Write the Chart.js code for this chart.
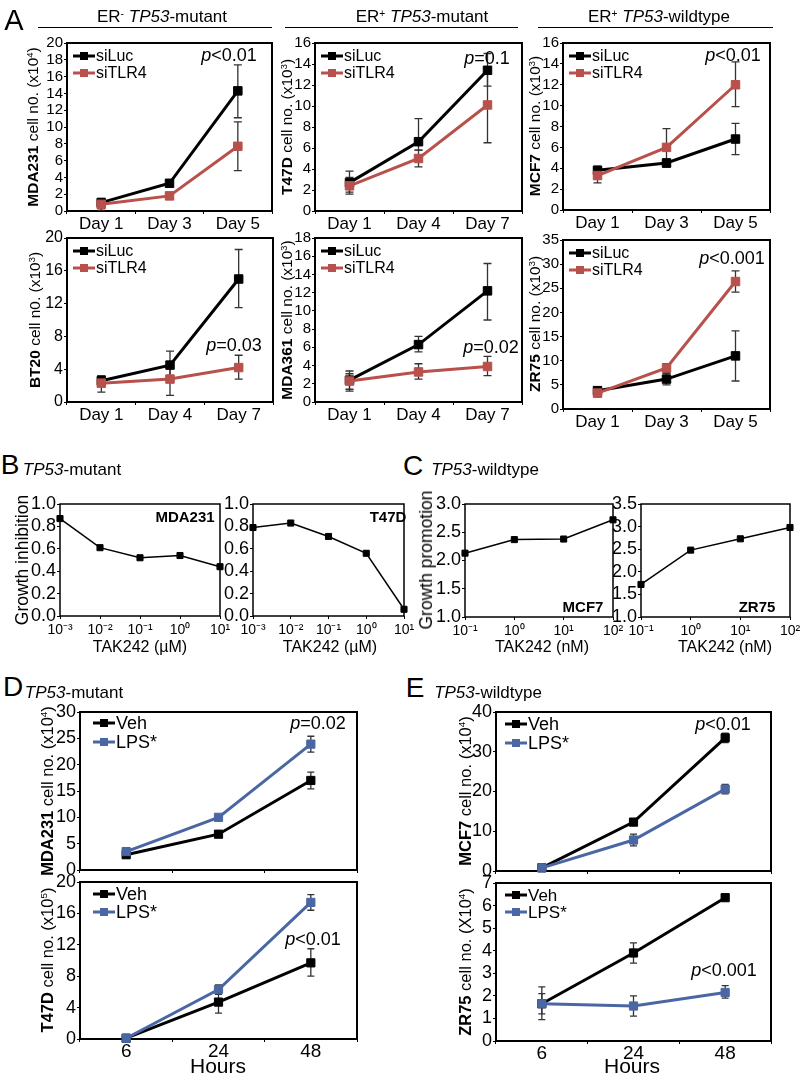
<!DOCTYPE html>
<html><head><meta charset="utf-8">
<script src="https://cdn.jsdelivr.net/npm/chart.js@4.4.1/dist/chart.umd.min.js"></script>
<style>
html,body{margin:0;padding:0;background:#fff;}
#page{position:relative;width:805px;height:1078px;overflow:hidden;font-family:'Liberation Sans',Arial,Helvetica,sans-serif;color:#000;}
canvas{position:absolute;}
.t{position:absolute;white-space:nowrap;transform:translate(-50%,-50%);line-height:1.15;}
.r{transform:translate(-50%,-50%) rotate(-90deg);}
sup{font-size:0.6em;vertical-align:0.55em;line-height:0;}
.hl{position:absolute;height:0;border-top:1.5px solid #000;}
</style></head><body><div id="page"></div>
<script>
// ---------------- DATA ----------------
const daysA135 = ['Day 1','Day 3','Day 5'];
const daysA147 = ['Day 1','Day 4','Day 7'];
const hours = ['6','24','48'];
const namesA = ['siLuc','siTLR4'];
const namesDE = ['Veh','LPS*'];

// A top: MDA231 (x10^4)
const mda231_siLuc = [1.0, 3.3, 14.3];
const mda231_siLuc_lo = [0.6, 2.9, 11.1];
const mda231_siLuc_hi = [1.4, 3.7, 17.4];
const mda231_siTLR4 = [0.8, 1.8, 7.7];
const mda231_siTLR4_lo = [0.1, 1.5, 4.8];
const mda231_siTLR4_hi = [1.5, 2.1, 10.6];
// A top: T47D (x10^3)
const t47d_siLuc = [2.7, 6.6, 13.4];
const t47d_siLuc_lo = [1.8, 5.8, 11.9];
const t47d_siLuc_hi = [3.8, 8.8, 15.0];
const t47d_siTLR4 = [2.4, 5.0, 10.1];
const t47d_siTLR4_lo = [1.6, 4.2, 6.5];
const t47d_siTLR4_hi = [3.2, 5.8, 13.7];
// A top: MCF7 (x10^3)
const mcf7_siLuc = [3.8, 4.5, 6.8];
const mcf7_siLuc_lo = [3.4, 4.1, 5.3];
const mcf7_siLuc_hi = [4.2, 4.9, 8.3];
const mcf7_siTLR4 = [3.3, 6.0, 12.0];
const mcf7_siTLR4_lo = [2.6, 4.3, 9.9];
const mcf7_siTLR4_hi = [4.0, 7.8, 14.2];
// A bottom: BT20 (x10^3)
const bt20_siLuc = [2.6, 4.5, 15.0];
const bt20_siLuc_lo = [2.0, 2.8, 11.5];
const bt20_siLuc_hi = [3.2, 6.2, 18.6];
const bt20_siTLR4 = [2.3, 2.8, 4.2];
const bt20_siTLR4_lo = [1.2, 0.8, 2.8];
const bt20_siTLR4_hi = [3.2, 4.5, 5.7];
// A bottom: MDA361 (x10^3)
const mda361_siLuc = [2.4, 6.3, 12.2];
const mda361_siLuc_lo = [1.4, 5.5, 9.0];
const mda361_siLuc_hi = [3.4, 7.2, 15.2];
const mda361_siTLR4 = [2.3, 3.3, 3.9];
const mda361_siTLR4_lo = [1.2, 2.5, 2.9];
const mda361_siTLR4_hi = [3.1, 4.2, 5.0];
// A bottom: ZR75 (x10^3)
const zr75_siLuc = [3.8, 6.2, 11.0];
const zr75_siLuc_lo = [3.0, 5.0, 5.8];
const zr75_siLuc_hi = [4.6, 7.4, 16.2];
const zr75_siTLR4 = [3.3, 8.5, 26.4];
const zr75_siTLR4_lo = [2.5, 7.6, 24.2];
const zr75_siTLR4_hi = [4.1, 9.4, 28.6];

// B: growth inhibition vs TAK242 (uM), log10 dose
const bDoseLog = [-3, -2, -1, 0, 1];
const bTickLabels = ['10\u207B\u00B3','10\u207B\u00B2','10\u207B\u00B9','10\u2070','10\u00B9'];
const bMDA231 = [0.87, 0.61, 0.52, 0.54, 0.44];
const bT47D = [0.79, 0.83, 0.71, 0.56, 0.06];
// C: growth promotion vs TAK242 (nM), log10 dose
const cDoseLog = [-1, 0, 1, 2];
const cTickLabels = ['10\u207B\u00B9','10\u2070','10\u00B9','10\u00B2'];
const cMCF7 = [2.13, 2.37, 2.38, 2.72];
const cZR75 = [1.72, 2.48, 2.73, 2.98];

// D: MDA231 (x10^4)
const dMDA_veh = [2.9, 6.8, 17.0];
const dMDA_veh_lo = [2.5, 6.3, 15.4];
const dMDA_veh_hi = [3.3, 7.3, 18.6];
const dMDA_lps = [3.5, 10.0, 23.9];
const dMDA_lps_lo = [3.1, 9.5, 22.4];
const dMDA_lps_hi = [3.9, 10.5, 25.4];
// D: T47D (x10^5)
const dT47_veh = [0.1, 4.7, 9.7];
const dT47_veh_lo = [0.0, 3.3, 8.0];
const dT47_veh_hi = [0.2, 6.2, 11.5];
const dT47_lps = [0.1, 6.3, 17.4];
const dT47_lps_lo = [0.0, 5.7, 16.4];
const dT47_lps_hi = [0.2, 6.9, 18.4];
// E: MCF7 (x10^4)
const eMCF_veh = [0.8, 12.3, 33.5];
const eMCF_veh_lo = [0.5, 11.6, 32.3];
const eMCF_veh_hi = [1.1, 13.0, 34.7];
const eMCF_lps = [0.8, 7.8, 20.6];
const eMCF_lps_lo = [0.5, 6.3, 19.4];
const eMCF_lps_hi = [1.1, 9.3, 21.8];
// E: ZR75 (x10^4)
const eZR_veh = [1.65, 3.9, 6.35];
const eZR_veh_lo = [1.2, 3.45, 6.25];
const eZR_veh_hi = [2.1, 4.35, 6.45];
const eZR_lps = [1.65, 1.55, 2.15];
const eZR_lps_lo = [0.95, 1.1, 1.9];
const eZR_lps_hi = [2.4, 2.0, 2.45];

// ---------------- STYLE ----------------
const FAM = "'Liberation Sans', Arial, Helvetica, sans-serif";
const BLACK = '#000000', RED = '#b8504b', BLUE = '#4a66a3';
const page = document.getElementById('page');

const framePlugin = {
  id: 'frame',
  beforeDatasetsDraw(chart, args, opts) {
    const ctx = chart.ctx, a = chart.chartArea, ys = chart.scales.y;
    ctx.save();
    ctx.strokeStyle = '#000'; ctx.lineWidth = opts.lw;
    ctx.strokeRect(a.left, a.top, a.right - a.left, a.bottom - a.top);
    chart.data.datasets.forEach((ds, i) => {
      if (!ds.errLo) return;
      const meta = chart.getDatasetMeta(i);
      ctx.strokeStyle = opts.errColor; ctx.lineWidth = opts.errLw;
      const c = opts.cap;
      meta.data.forEach((p, j) => {
        const y1 = ys.getPixelForValue(ds.errLo[j]), y2 = ys.getPixelForValue(ds.errHi[j]);
        ctx.beginPath();
        ctx.moveTo(p.x, y1); ctx.lineTo(p.x, y2);
        ctx.moveTo(p.x - c, y1); ctx.lineTo(p.x + c, y1);
        ctx.moveTo(p.x - c, y2); ctx.lineTo(p.x + c, y2);
        ctx.stroke();
      });
    });
    ctx.restore();
  },
  afterDatasetsDraw(chart, args, opts) {
    const L = opts.legend; if (!L) return;
    const ctx = chart.ctx, a = chart.chartArea;
    ctx.save();
    L.items.forEach((it, k) => {
      const y = a.top + L.y + k * L.dy, x0 = a.left + L.x;
      ctx.strokeStyle = it.color; ctx.lineWidth = L.lw;
      ctx.beginPath(); ctx.moveTo(x0, y); ctx.lineTo(x0 + L.len, y); ctx.stroke();
      ctx.fillStyle = it.color;
      ctx.fillRect(x0 + L.len / 2 - L.m / 2, y - L.m / 2, L.m, L.m);
      ctx.fillStyle = '#000'; ctx.font = L.size + 'px ' + FAM;
      ctx.textAlign = 'left'; ctx.textBaseline = 'middle';
      ctx.fillText(it.label, x0 + L.len + 1, y + 1);
    });
    ctx.restore();
  }
};

function ds(label, data, lo, hi, color, lw, r, order) {
  const o = { label, data, borderColor: color, backgroundColor: color, borderWidth: lw,
    pointStyle: 'rect', pointRadius: r, pointBackgroundColor: color, pointBorderColor: color,
    pointBorderWidth: 1, tension: 0, clip: false, order };
  if (lo) { o.errLo = lo; o.errHi = hi; }
  return o;
}

function makeChart(o) {
  const YW = 44, PT = 12, PR = 16, XH = (o.xh !== undefined ? o.xh : 36);
  const W = o.box.r - o.box.l, H = o.box.b - o.box.t;
  const cw = W + YW + PR, ch = H + PT + XH;
  const cv = document.createElement('canvas');
  cv.width = cw; cv.height = ch;
  cv.style.left = (o.box.l - YW) + 'px'; cv.style.top = (o.box.t - PT) + 'px';
  cv.style.width = cw + 'px'; cv.style.height = ch + 'px';
  page.appendChild(cv);
  const x = Object.assign({ afterFit: s => { s.height = XH; } }, o.x);
  const y = Object.assign({ afterFit: s => { s.width = YW; } }, o.y);
  new Chart(cv, {
    type: 'line',
    data: { labels: o.labels, datasets: o.datasets },
    plugins: [framePlugin],
    options: {
      responsive: false, animation: false, devicePixelRatio: 1,
      layout: { padding: { top: PT, right: PR, left: 0, bottom: 0 } },
      plugins: { legend: { display: false }, tooltip: { enabled: false },
        frame: { lw: o.frame, errColor: '#333', errLw: 1.3, cap: o.cap || 3.5, legend: o.legend } },
      scales: { x, y }
    }
  });
}

function catX(fontSize, show, pad) {
  return { type: 'category', offset: true,
    grid: { offset: true, drawOnChartArea: false, drawTicks: true, tickLength: 3, color: '#000', lineWidth: 1 },
    border: { display: false },
    ticks: { display: show !== false, color: '#000', font: { family: FAM, size: fontSize, lineHeight: 1 },
      padding: pad !== undefined ? pad : 2, maxRotation: 0, autoSkip: false } };
}
function linY(min, max, step, fontSize, dec) {
  return { type: 'linear', min, max,
    grid: { drawOnChartArea: false, drawTicks: true, tickLength: 3, color: '#000', lineWidth: 1 },
    border: { display: false },
    ticks: { stepSize: step, autoSkip: false, color: '#000', padding: 1, font: { family: FAM, size: fontSize },
      callback: v => dec ? Number(v).toFixed(dec) : String(Math.round(v)) } };
}
function logX(min, max, labels) {
  return { type: 'linear', min, max,
    grid: { drawOnChartArea: false, drawTicks: true, tickLength: 3, color: '#000', lineWidth: 1 },
    border: { display: false },
    ticks: { stepSize: 1, autoSkip: false, color: '#000', padding: 3, maxRotation: 0, font: { family: FAM, size: 14 },
      callback: v => labels[Math.round(v - min)] } };
}
const legA = { x: 6, y: 13, dy: 17, len: 22, m: 8, lw: 3, size: 16,
  items: [{ label: namesA[0], color: BLACK }, { label: namesA[1], color: RED }] };
function legDE(x, y, dy, size) {
  return { x, y, dy, len: 22, m: 8, lw: 3, size,
    items: [{ label: namesDE[0], color: BLACK }, { label: namesDE[1], color: BLUE }] };
}
function pairA(a, alo, ahi, b, blo, bhi) {
  return [ds(namesA[0], a, alo, ahi, BLACK, 3, 6, 1), ds(namesA[1], b, blo, bhi, RED, 3, 6, 0)];
}
function pairDE(a, alo, ahi, b, blo, bhi) {
  return [ds(namesDE[0], a, alo, ahi, BLACK, 3, 5.8, 1), ds(namesDE[1], b, blo, bhi, BLUE, 3, 5.8, 0)];
}
const xy = (xs, ys) => xs.map((v, i) => ({ x: v, y: ys[i] }));

// ---------------- PANEL A ----------------
makeChart({ box: { l: 67, t: 42.5, r: 272, b: 211 }, labels: daysA135, frame: 2, cap: 4, legend: legA,
  x: catX(17), y: linY(0, 20, 2, 15),
  datasets: pairA(mda231_siLuc, mda231_siLuc_lo, mda231_siLuc_hi, mda231_siTLR4, mda231_siTLR4_lo, mda231_siTLR4_hi) });
makeChart({ box: { l: 315, t: 42.5, r: 522, b: 211 }, labels: daysA147, frame: 2, cap: 4, legend: legA,
  x: catX(17), y: linY(0, 16, 2, 15),
  datasets: pairA(t47d_siLuc, t47d_siLuc_lo, t47d_siLuc_hi, t47d_siTLR4, t47d_siTLR4_lo, t47d_siTLR4_hi) });
makeChart({ box: { l: 563, t: 42.5, r: 770, b: 210 }, labels: daysA135, frame: 2, cap: 4, legend: legA,
  x: catX(17), y: linY(0, 16, 2, 15),
  datasets: pairA(mcf7_siLuc, mcf7_siLuc_lo, mcf7_siLuc_hi, mcf7_siTLR4, mcf7_siTLR4_lo, mcf7_siTLR4_hi) });
makeChart({ box: { l: 67, t: 238, r: 273, b: 402 }, labels: daysA147, frame: 2, cap: 4, legend: legA,
  x: catX(17), y: linY(0, 20, 4, 16),
  datasets: pairA(bt20_siLuc, bt20_siLuc_lo, bt20_siLuc_hi, bt20_siTLR4, bt20_siTLR4_lo, bt20_siTLR4_hi) });
makeChart({ box: { l: 315, t: 238, r: 522, b: 402 }, labels: daysA147, frame: 2, cap: 4, legend: legA,
  x: catX(17), y: linY(0, 18, 2, 15),
  datasets: pairA(mda361_siLuc, mda361_siLuc_lo, mda361_siLuc_hi, mda361_siTLR4, mda361_siTLR4_lo, mda361_siTLR4_hi) });
makeChart({ box: { l: 563, t: 240, r: 770, b: 409 }, labels: daysA135, frame: 2, cap: 4, legend: legA,
  x: catX(17), y: linY(0, 35, 5, 15),
  datasets: pairA(zr75_siLuc, zr75_siLuc_lo, zr75_siLuc_hi, zr75_siTLR4, zr75_siTLR4_lo, zr75_siTLR4_hi) });

// ---------------- PANEL B / C ----------------
makeChart({ box: { l: 60, t: 504, r: 220, b: 616 }, frame: 1.5,
  x: logX(-3, 1, bTickLabels), y: linY(0, 1, 0.2, 18, 1),
  datasets: [ds('MDA231', xy(bDoseLog, bMDA231), null, null, BLACK, 1.5, 4.3, 0)] });
makeChart({ box: { l: 253, t: 504, r: 404, b: 616 }, frame: 1.5,
  x: logX(-3, 1, bTickLabels), y: linY(0, 1, 0.2, 18, 1),
  datasets: [ds('T47D', xy(bDoseLog, bT47D), null, null, BLACK, 1.5, 4.3, 0)] });
makeChart({ box: { l: 465, t: 504, r: 613, b: 617 }, frame: 1.5,
  x: logX(-1, 2, cTickLabels), y: linY(1, 3, 0.5, 18, 1),
  datasets: [ds('MCF7', xy(cDoseLog, cMCF7), null, null, BLACK, 1.5, 4.3, 0)] });
makeChart({ box: { l: 641, t: 504, r: 790, b: 617 }, frame: 1.5,
  x: logX(-1, 2, cTickLabels), y: linY(1, 3.5, 0.5, 18, 1),
  datasets: [ds('ZR75', xy(cDoseLog, cZR75), null, null, BLACK, 1.5, 4.3, 0)] });

// ---------------- PANEL D / E ----------------
makeChart({ box: { l: 80, t: 712, r: 357, b: 870 }, labels: hours, frame: 2, xh: 14, legend: legDE(13, 11, 19, 18),
  x: catX(19, false), y: linY(0, 30, 5, 18),
  datasets: pairDE(dMDA_veh, dMDA_veh_lo, dMDA_veh_hi, dMDA_lps, dMDA_lps_lo, dMDA_lps_hi) });
makeChart({ box: { l: 80, t: 882, r: 357, b: 1039 }, labels: hours, frame: 2, legend: legDE(13, 12, 18, 18),
  x: catX(19, true, 0), y: linY(0, 20, 4, 18),
  datasets: pairDE(dT47_veh, dT47_veh_lo, dT47_veh_hi, dT47_lps, dT47_lps_lo, dT47_lps_hi) });
makeChart({ box: { l: 496, t: 712, r: 771, b: 871 }, labels: hours, frame: 2, xh: 14, legend: legDE(9, 12, 19, 18),
  x: catX(19, false), y: linY(0, 40, 10, 18),
  datasets: pairDE(eMCF_veh, eMCF_veh_lo, eMCF_veh_hi, eMCF_lps, eMCF_lps_lo, eMCF_lps_hi) });
makeChart({ box: { l: 496, t: 883, r: 771, b: 1041 }, labels: hours, frame: 2, legend: legDE(9, 12, 17, 17),
  x: catX(19, true, 0), y: linY(0, 7, 1, 18),
  datasets: pairDE(eZR_veh, eZR_veh_lo, eZR_veh_hi, eZR_lps, eZR_lps_lo, eZR_lps_hi) });

// ---------------- TEXT ----------------
function T(html, cx, cy, size, style, rot) {
  const d = document.createElement('div');
  d.className = 't' + (rot ? ' r' : '');
  d.style.left = cx + 'px'; d.style.top = cy + 'px'; d.style.fontSize = size + 'px';
  if (style) d.style.cssText += style;
  d.innerHTML = html; page.appendChild(d);
}
function HL(x1, x2, y) {
  const d = document.createElement('div'); d.className = 'hl';
  d.style.left = x1 + 'px'; d.style.width = (x2 - x1) + 'px'; d.style.top = y + 'px'; page.appendChild(d);
}
// panel letters
T('A', 14, 21, 29); T('B', 10, 465, 28); T('C', 413, 466, 28); T('D', 13, 687, 28); T('E', 415, 688, 28);
// headers
T('ER<sup>-</sup> <i>TP53</i>-mutant', 162, 17, 17); HL(38, 272, 27);
T('ER<sup>+</sup> <i>TP53</i>-mutant', 422, 17, 17); HL(285, 518, 27);
T('ER<sup>+</sup> <i>TP53</i>-wildtype', 659, 17, 17); HL(538, 773, 27);
T('<i>TP53</i>-mutant', 72, 470, 17); T('<i>TP53</i>-wildtype', 485, 470, 17);
T('<i>TP53</i>-mutant', 74, 693, 17); T('<i>TP53</i>-wildtype', 488, 693, 17);
// y titles A
T('<b>MDA231</b> cell n0. (x10<sup>4</sup>)', 33, 127, 15.5, '', true);
T('<b>T47D</b> cell no. (x10<sup>3</sup>)', 287, 127, 15.5, '', true);
T('<b>MCF7</b> cell no. (x10<sup>3</sup>)', 535, 126, 15.5, '', true);
T('<b>BT20</b> cell n0. (x10<sup>3</sup>)', 35, 320, 15.5, '', true);
T('<b>MDA361</b> cell no. (x10<sup>3</sup>)', 287, 320, 15.5, '', true);
T('<b>ZR75</b> cell no. (x10<sup>3</sup>)', 535, 324, 15.5, '', true);
// B/C titles
T('Growth inhibition', 22, 560, 17.5, '', true);
T('Growth promotion', 426, 560, 17.5, '', true);
T('TAK242 (\u00B5M)', 140, 647, 16); T('TAK242 (\u00B5M)', 330, 647, 16);
T('TAK242 (nM)', 542, 647, 16); T('TAK242 (nM)', 725, 647, 16);
T('<b>MDA231</b>', 185, 517, 15); T('<b>T47D</b>', 388, 517, 15);
T('<b>MCF7</b>', 583, 607, 15); T('<b>ZR75</b>', 757, 607, 15);
// D/E titles
T('<b>MDA231</b> cell no. (x10<sup>4</sup>)', 47, 791, 16.5, '', true);
T('<b>T47D</b> cell no. (x10<sup>5</sup>)', 47, 960, 16.5, '', true);
T('<b>MCF7</b> cell no. (x10<sup>4</sup>)', 465, 791, 16.5, '', true);
T('<b>ZR75</b> cell no. (X10<sup>4</sup>)', 465, 962, 16.5, '', true);
T('Hours', 218, 1066, 21); T('Hours', 632, 1066, 21);
// p-values
T('<i>p</i>&lt;0.01', 229, 55, 18); T('<i>p</i>=0.1', 487, 58, 18); T('<i>p</i>&lt;0.01', 733, 55, 18);
T('<i>p</i>=0.03', 234, 345, 18); T('<i>p</i>=0.02', 491, 347, 18); T('<i>p</i>&lt;0.001', 732, 258, 18);
T('<i>p</i>=0.02', 318, 723, 18); T('<i>p</i>&lt;0.01', 313, 939, 18);
T('<i>p</i>&lt;0.01', 723, 724, 18); T('<i>p</i>&lt;0.001', 724, 970, 18);
</script></body></html>
